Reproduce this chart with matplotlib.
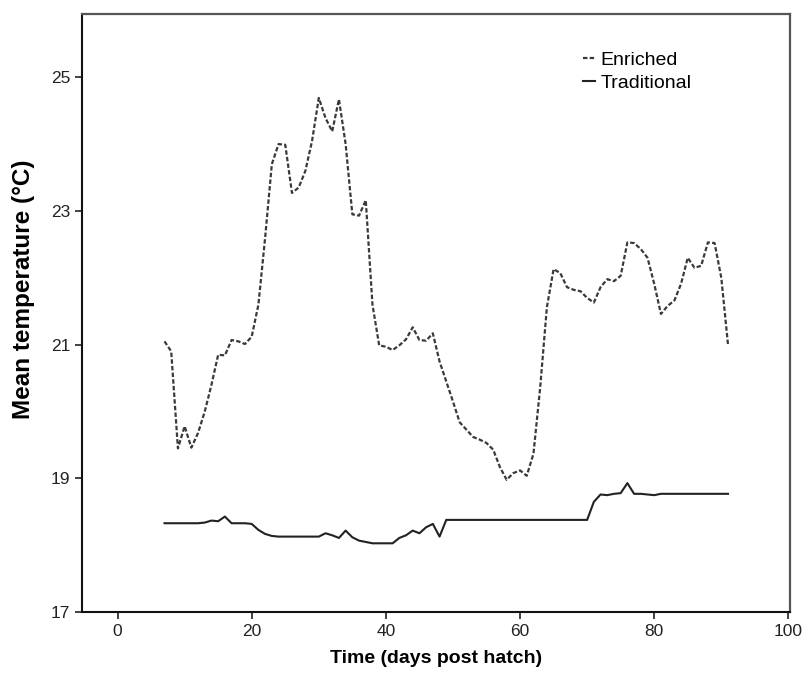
import matplotlib.pyplot as plt

# days post hatch (7..91)
days = list(range(7, 92))

enriched = [21.05, 20.9, 19.45, 19.78, 19.46, 19.68, 20.0, 20.4, 20.85, 20.84,
            21.07, 21.05, 21.01, 21.12, 21.6, 22.6, 23.7, 24.0, 23.99, 23.27,
            23.35, 23.6, 24.05, 24.69, 24.39, 24.19, 24.67, 24.0, 22.95, 22.93,
            23.16, 21.6, 20.99, 20.97, 20.92, 20.99, 21.08, 21.26, 21.07, 21.06,
            21.17, 20.75, 20.45, 20.15, 19.84, 19.73, 19.62, 19.58, 19.53, 19.43,
            19.17, 18.98, 19.08, 19.12, 19.04, 19.37, 20.36, 21.56, 22.13, 22.07,
            21.86, 21.82, 21.8, 21.7, 21.63, 21.86, 21.98, 21.95, 22.03, 22.53,
            22.52, 22.43, 22.3, 21.91, 21.46, 21.58, 21.66, 21.91, 22.3, 22.15,
            22.18, 22.53, 22.52, 22.0, 21.0]

traditional = [18.33, 18.33, 18.33, 18.33, 18.33, 18.33, 18.34, 18.37, 18.36, 18.43,
               18.33, 18.33, 18.33, 18.32, 18.23, 18.17, 18.14, 18.13, 18.13, 18.13,
               18.13, 18.13, 18.13, 18.13, 18.18, 18.15, 18.11, 18.22, 18.12, 18.07,
               18.05, 18.03, 18.03, 18.03, 18.03, 18.11, 18.15, 18.22, 18.18, 18.27,
               18.32, 18.13] + [18.38] * 22 + [18.65, 18.76, 18.75, 18.77, 18.78,
               18.93, 18.77, 18.77, 18.76, 18.75] + [18.77] * 11

xticks = [0, 20, 40, 60, 80, 100]
yticks = [17, 19, 21, 23, 25]

plt.rcParams['font.family'] = ['Liberation Sans', 'DejaVu Sans']

fig = plt.figure(figsize=(8.07, 6.84), dpi=100)
ax = fig.add_axes([0.1016, 0.105, 0.877, 0.875])

ax.plot(days, enriched, color='#3a3a3a', lw=1.6, ls=(0, (2, 1)), label='Enriched')
ax.plot(days, traditional, color='#222222', lw=1.5, ls='-', label='Traditional')

ax.set_xlim(-5.3, 100.2)
ax.set_ylim(17, 25.95)
ax.set_xticks(xticks)
ax.set_yticks(yticks)
ax.tick_params(labelsize=12.5, length=5, width=1.2, colors='#222222')

for s in ['left', 'bottom']:
    ax.spines[s].set_linewidth(1.5)
    ax.spines[s].set_color('#111111')
for s in ['top', 'right']:
    ax.spines[s].set_linewidth(1.6)
    ax.spines[s].set_color('#555555')

ax.set_xlabel('Time (days post hatch)', fontsize=14, fontweight='bold', labelpad=8)
ax.set_ylabel('Mean temperature (°C)', fontsize=17.5, fontweight='bold')
ax.yaxis.set_label_coords(-0.066, 0.54)

ax.legend(loc='upper left', bbox_to_anchor=(583 / 807, 1 - 51 / 684),
          bbox_transform=fig.transFigure, frameon=False, borderpad=0,
          borderaxespad=0, handlelength=0.6, handletextpad=0.3,
          fontsize=14, labelspacing=0.3)

fig.savefig('out.png', dpi=100)
